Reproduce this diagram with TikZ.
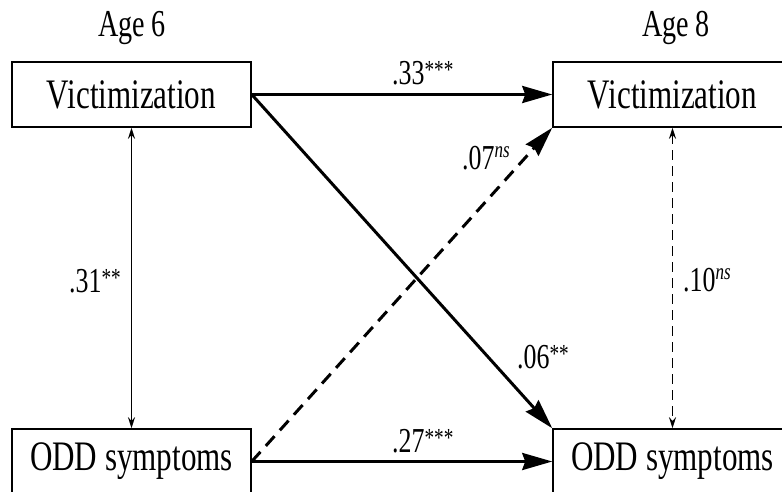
\documentclass[tikz,border=0pt]{standalone}
\usepackage{fontspec}
\setmainfont{Liberation Serif}[FakeStretch=0.74]
\usetikzlibrary{arrows.meta,positioning}

\newcommand{\stars}[1]{\raisebox{6pt}{\fontsize{26}{26}\selectfont #1}}
\newcommand{\nonsig}{\raisebox{12pt}{\fontsize{23}{23}\selectfont\itshape ns}}

\tikzset{
    varbox/.style={draw,line width=1.5pt,minimum width=239pt,minimum height=65pt,inner sep=0pt,font=\fontsize{42}{48}\selectfont},
    path/.style={line width=3pt,-{Stealth[length=30pt,width=17pt,inset=3pt]}},
    corr/.style={line width=1.5pt,{Stealth[length=11pt,width=7pt]}-{Stealth[length=11pt,width=7pt]}},
    coef/.style={anchor=base west,inner sep=0pt,font=\fontsize{35}{40}\selectfont},
    age/.style={anchor=base,inner sep=0pt,font=\fontsize{38}{42}\selectfont}
}

\begin{document}
\begin{tikzpicture}[x=1pt,y=-1pt]
    \useasboundingbox (0,0) rectangle (782,492);
    \begin{scope} % Variables at both ages
        \node[varbox] (vic6) at (131.5,94.5) {Victimization};
        \node[varbox] (vic8) at (672.5,94.5) {Victimization};
        \node[varbox] (odd6) at (131.5,461.5) {ODD symptoms};
        \node[varbox] (odd8) at (672.5,461.5) {ODD symptoms};
        \node[age] (age6) at (132,37) {Age 6};
        \node[age] (age8) at (676,37) {Age 8};
    \end{scope}
    \begin{scope} % Paths between the ages
        \draw[path] (vic6.east) -- (vic8.west);
        \draw[path] (odd6.east) -- (odd8.west);
        \draw[path] (vic6.east) -- (odd8.north west);
        \draw[path,dash pattern=on 13pt off 8pt] (odd6.east) -- (vic8.south west);
    \end{scope}
    \begin{scope} % Correlations within each age
        \draw[corr] (vic6.south) -- (odd6.north);
        \draw[corr,dash pattern=on 10pt off 6pt] (vic8.south) -- (odd8.north);
    \end{scope}

% Coefficients next to the paths
\node[coef] (c33) at (392,85) {.33\stars{***}};
\node[coef] (c07) at (462,170) {.07\nonsig};
\node[coef] (c31) at (69,292) {.31\stars{**}};
\node[coef] (c10) at (683,291) {.10\nonsig};
\node[coef] (c06) at (517,368) {.06\stars{**}};
\node[coef] (c27) at (392,452) {.27\stars{***}};

\end{tikzpicture}
\end{document}
